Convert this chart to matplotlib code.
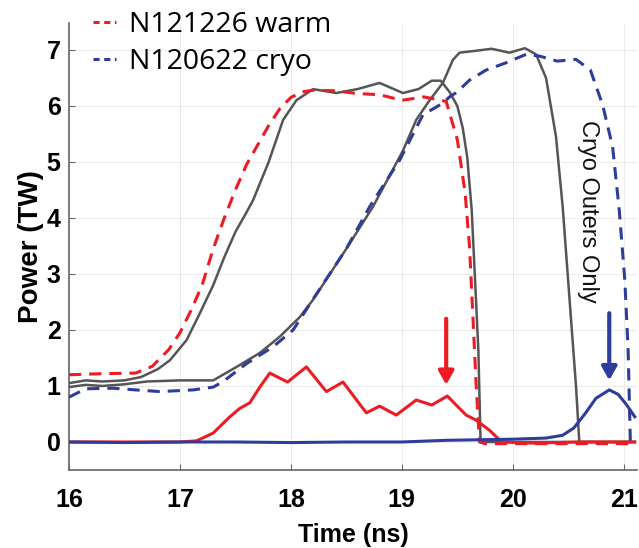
import matplotlib
matplotlib.use("Agg")
import matplotlib.pyplot as plt
from matplotlib.lines import Line2D

# N121226 warm, simulated (red dashed)
warm_sim_t = [16.0, 16.3, 16.6, 16.75, 16.9, 17.0, 17.1, 17.2, 17.3, 17.4, 17.5, 17.6, 17.7, 17.8,
              17.9, 18.0, 18.1, 18.2, 18.4, 18.6, 18.8, 19.0, 19.2, 19.4, 19.5, 19.57, 19.61,
              19.64, 19.67, 19.7, 19.75, 20.0, 20.5, 21.1]
warm_sim_p = [1.2, 1.22, 1.23, 1.35, 1.65, 1.95, 2.35, 2.8, 3.45, 4.0, 4.5, 4.95, 5.3, 5.65,
              5.95, 6.15, 6.25, 6.28, 6.27, 6.22, 6.2, 6.1, 6.16, 6.08, 5.4, 4.46, 3.5,
              2.27, 1.02, 0.0, -0.03, -0.03, -0.03, -0.03]

# N121226 warm, measured (gray)
warm_meas_t = [16.0, 16.15, 16.3, 16.5, 16.65, 16.8, 16.91, 17.06, 17.18, 17.3, 17.4, 17.5, 17.6,
               17.66, 17.8, 17.93, 18.05, 18.2, 18.41, 18.6, 18.8, 19.01, 19.15, 19.27, 19.35,
               19.43, 19.5, 19.55, 19.59, 19.63, 19.66, 19.69, 19.71, 21.1]
warm_meas_p = [1.05, 1.1, 1.08, 1.1, 1.16, 1.3, 1.46, 1.82, 2.3, 2.8, 3.3, 3.75, 4.1,
               4.32, 5.0, 5.75, 6.1, 6.3, 6.23, 6.3, 6.41, 6.23, 6.3, 6.45, 6.45,
               6.25, 6.0, 5.6, 5.08, 4.14, 2.9, 1.64, 0.0, 0.0]

# N120622 cryo, simulated (blue dashed)
cryo_sim_t = [16.0, 16.15, 16.4, 16.6, 16.82, 17.12, 17.3, 17.39, 17.6, 17.84, 18.02, 18.2, 18.5,
              18.71, 18.98, 19.19, 19.37, 19.43, 19.5, 19.61, 19.76, 19.94, 20.12, 20.24, 20.4,
              20.57, 20.7, 20.81, 20.9, 20.96, 21.01, 21.04, 21.06, 21.1]
cryo_sim_p = [0.8, 0.95, 0.96, 0.93, 0.9, 0.93, 0.98, 1.08, 1.4, 1.7, 2.0, 2.55, 3.45,
              4.2, 5.03, 5.84, 6.05, 6.16, 6.25, 6.46, 6.64, 6.77, 6.92, 6.89, 6.8,
              6.83, 6.64, 6.02, 5.27, 4.14, 2.89, 1.64, 0.0, 0.0]

# N120622 cryo, measured (gray)
cryo_meas_t = [16.0, 16.15, 16.3, 16.5, 16.7, 17.0, 17.3, 17.51, 17.72, 17.9, 18.08, 18.2, 18.5,
               18.74, 19.01, 19.13, 19.25, 19.37, 19.46, 19.52, 19.65, 19.81, 19.97, 20.11,
               20.21, 20.3, 20.39, 20.45, 20.51, 20.57, 20.6, 21.1]
cryo_meas_p = [0.98, 1.02, 1.0, 1.03, 1.08, 1.1, 1.1, 1.34, 1.59, 1.88, 2.23, 2.54, 3.45,
               4.2, 5.2, 5.75, 6.1, 6.41, 6.82, 6.95, 6.98, 7.02, 6.95, 7.03,
               6.92, 6.5, 5.45, 4.2, 2.6, 1.0, 0.0, 0.0]

# red solid trace
red_t = [16.0, 16.5, 17.0, 17.15, 17.3, 17.45, 17.54, 17.63, 17.72, 17.81, 17.97, 18.14, 18.32,
         18.47, 18.68, 18.8, 18.95, 19.13, 19.27, 19.41, 19.58, 19.67, 19.79, 19.9, 20.2,
         20.6, 21.1]
red_p = [0.0, 0.0, 0.0, 0.02, 0.16, 0.45, 0.6, 0.7, 0.98, 1.23, 1.07, 1.34, 0.9,
         1.07, 0.52, 0.64, 0.48, 0.75, 0.66, 0.82, 0.48, 0.39, 0.21, 0.0, -0.02,
         0.0, 0.0]

# blue solid trace
blue_t = [16.0, 16.5, 17.0, 17.5, 18.0, 18.5, 19.0, 19.4, 19.7, 20.0, 20.3, 20.45, 20.55,
          20.65, 20.75, 20.87, 20.95, 21.02, 21.1]
blue_p = [0.0, -0.01, 0.0, 0.0, -0.01, 0.0, 0.0, 0.03, 0.04, 0.05, 0.07, 0.12, 0.25,
          0.5, 0.78, 0.93, 0.85, 0.68, 0.45]

# arrows: (time, top, tip)
red_arrow = (19.4, 2.2, 1.02)
blue_arrow = (20.87, 2.3, 1.1)

RED = '#ec1c24'
BLUE = '#2e3c9c'
GRAY = '#555555'

plt.rcParams['font.family'] = ['Liberation Sans', 'DejaVu Sans']

fig = plt.figure(figsize=(6.39, 5.48), dpi=100)
ax = fig.add_axes([69 / 639, 1 - 470 / 548, (637 - 69) / 639, (470 - 23) / 548])

dash = (0, (4, 2.6))
ax.plot(warm_meas_t, warm_meas_p, color=GRAY, lw=1.8, zorder=3)
ax.plot(cryo_meas_t, cryo_meas_p, color=GRAY, lw=1.8, zorder=3)
ax.plot(warm_sim_t, warm_sim_p, color=RED, lw=2.2, ls=dash, zorder=4)
ax.plot(cryo_sim_t, cryo_sim_p, color=BLUE, lw=2.2, ls=dash, zorder=4)
ax.plot(red_t, red_p, color=RED, lw=2.2, zorder=5)
ax.plot(blue_t, blue_p, color=BLUE, lw=2.2, zorder=6)

for (t, top, tip), c in [(red_arrow, RED), (blue_arrow, BLUE)]:
    ax.annotate('', xy=(t, tip), xytext=(t, top),
                arrowprops=dict(arrowstyle='-|>,head_length=0.8,head_width=0.45',
                                color=c, lw=3, shrinkA=0, shrinkB=0), zorder=7)

ax.text(20.68, 4.12, 'Cryo Outers Only', rotation=-90, ha='center', va='center',
        fontsize=17, family=['Liberation Sans', 'DejaVu Sans'], color='#111111')

ax.set_xlim(16, 21.12)
ax.set_ylim(-0.5, 7.48)
ax.set_xticks([16, 17, 18, 19, 20, 21])
ax.set_yticks(range(0, 8))
ax.grid(True, color='#e6e6e6', lw=0.6)
ax.set_axisbelow(True)
for s in ['top', 'right']:
    ax.spines[s].set_visible(False)
for s in ['left', 'bottom']:
    ax.spines[s].set_color('#666666')
    ax.spines[s].set_linewidth(1.2)
ax.tick_params(direction='in', length=4, color='#666666', labelsize=18)
ax.tick_params(axis='x', pad=13)
ax.tick_params(axis='y', pad=6)
for lab in ax.get_xticklabels() + ax.get_yticklabels():
    lab.set_fontweight('bold')

ax.set_xlabel('Time (ns)', fontsize=18, fontweight='bold', labelpad=8)
ax.set_ylabel('Power (TW)', fontsize=20, fontweight='bold', labelpad=2)

handles = [Line2D([], [], color=RED, lw=2.2, ls=(0, (2, 1.5))),
           Line2D([], [], color=BLUE, lw=2.2, ls=(0, (2, 1.5)))]
fig.legend(handles, ['N121226 warm', 'N120622 cryo'], loc='upper left',
           bbox_to_anchor=(82 / 639, 1.0), frameon=False, handlelength=0.8,
           handletextpad=0.45, labelspacing=0.3, borderaxespad=0.0,
           prop={'family': ['Open Sans', 'DejaVu Sans'], 'size': 20.5})

fig.savefig('out.png', dpi=100)
